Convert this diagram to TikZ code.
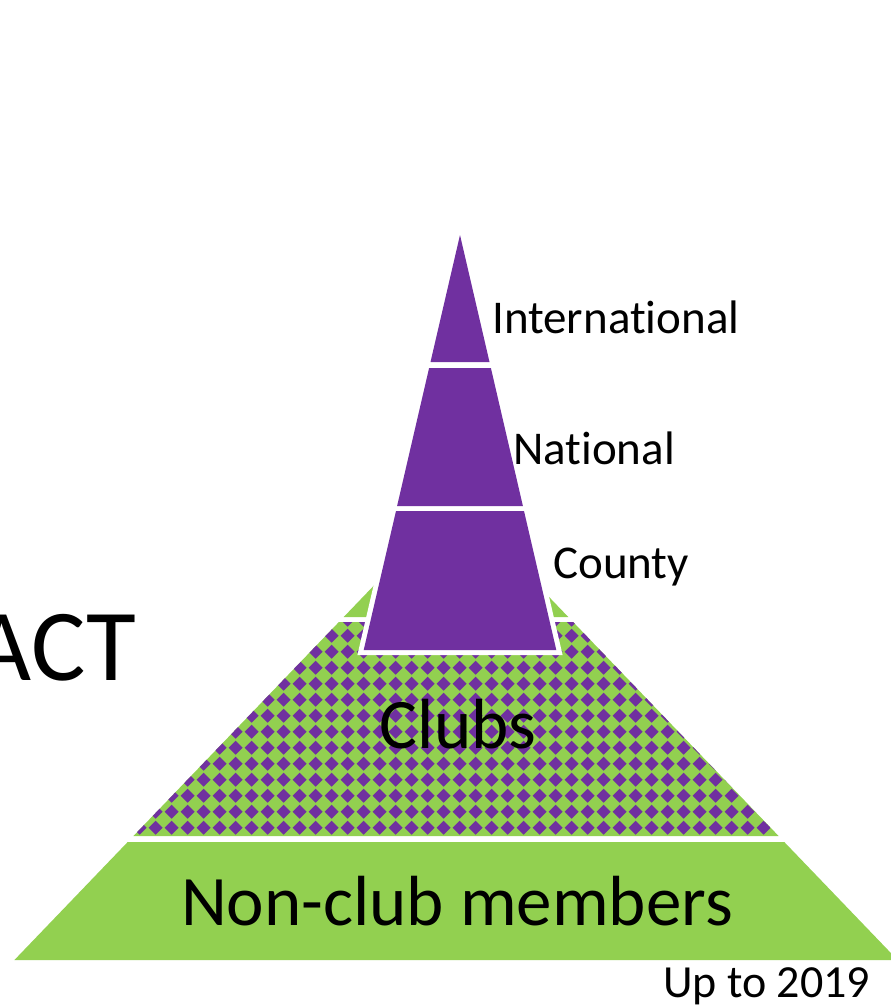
\documentclass[tikz,border=0pt]{standalone}
\usepackage{fontspec}
\setmainfont[Ligatures=NoCommon]{Carlito}
\usetikzlibrary{shapes}
\definecolor{levelpurple}{HTML}{7030A0}
\definecolor{levelgreen}{HTML}{92D050}

\begin{document}
\begin{tikzpicture}[x=1pt,y=-1pt,
    levellabel/.style={inner sep=0pt,anchor=base west,font=\fontsize{47}{56}\selectfont},
    layertext/.style={inner sep=0pt,anchor=base,font=\fontsize{71}{85}\selectfont}]
\useasboundingbox (0,0) rectangle (891,1005);
% green pyramid
\fill[levelgreen] (456,500) -- (568.3,617) -- (343.7,617) -- cycle;
\fill[levelgreen] (133.4,836) -- (778.6,836) -- (573.1,622) -- (338.9,622) -- cycle;
\fill[levelgreen] (14.4,960) -- (897.6,960) -- (784.3,842) -- (127.7,842) -- cycle;
\begin{scope}
\clip (133.4,836) -- (778.6,836) -- (573.1,622) -- (338.9,622) -- cycle;
\foreach \i in {0,...,42}
  \foreach \j in {0,...,15}
    \fill[levelpurple] (123.7+16*\i,603.7+16*\j) +(-7,0) -- +(0,-7) -- +(7,0) -- +(0,7) -- cycle;
\end{scope}
% purple pyramid
\draw[white,line width=10pt] (363.7,650) -- (556.3,650) -- (524,511) -- (396,511) -- cycle;
\fill[levelpurple] (363.7,650) -- (556.3,650) -- (524,511) -- (396,511) -- cycle;
\fill[levelpurple] (397.1,506) -- (522.9,506) -- (490.9,368) -- (429.1,368) -- cycle;
\fill[levelpurple] (430.5,362) -- (489.5,362) -- (460,235) -- cycle;
\node[levellabel] (intl) at (492,333) {International};
\node[levellabel] (natl) at (513,464) {National};
\node[levellabel] (cnty) at (553,578) {County};
\node[layertext] (clubs) at (458,748) {Clubs};
\node[layertext] (nonclub) at (457,925) {Non-club members};
\node[inner sep=0pt,anchor=base east,font=\fontsize{102}{122}\selectfont] (act) at (136,680) {ACT};
\node[inner sep=0pt,anchor=base west,font=\fontsize{46}{55}\selectfont] (year) at (663,997) {Up to 2019};
\end{tikzpicture}
\end{document}
